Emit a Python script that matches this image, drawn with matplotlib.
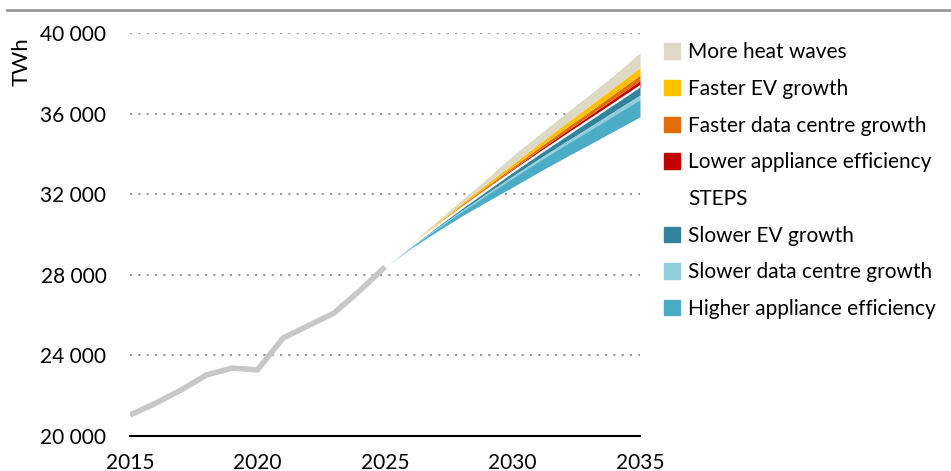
import numpy as np
import matplotlib.pyplot as plt
from matplotlib.patches import Patch
from matplotlib.ticker import FuncFormatter

plt.rcParams['font.family'] = ['Lato', 'DejaVu Sans']

# --- data (TWh) ---
hist_years = list(range(2015, 2026))
hist = [21040, 21620, 22280, 23030, 23370, 23280, 24860, 25480, 26100, 27200, 28390]

proj_years = list(range(2025, 2036))
steps = [28390, 29400, 30360, 31300, 32200, 33100, 33970, 34820, 35660, 36500, 37350]

# band widths above STEPS (stacked upward)
lower_appl_eff = [0, 30, 60, 90, 120, 150, 180, 210, 230, 260, 280]
faster_dc = [0, 30, 60, 80, 90, 100, 130, 170, 200, 240, 280]
faster_ev = [0, 20, 50, 80, 120, 150, 190, 230, 280, 330, 380]
heat_waves = [0, 40, 90, 150, 250, 400, 450, 500, 550, 600, 730]

# band widths below STEPS (stacked downward)
slower_ev = [0, 30, 70, 110, 150, 200, 240, 290, 340, 380, 430]
slower_dc = [0, 20, 40, 60, 80, 100, 120, 140, 170, 190, 220]
higher_appl_eff = [0, 50, 130, 220, 330, 450, 530, 610, 690, 780, 860]

col_heat = "#DDD9C4"
col_fev = "#FFC000"
col_fdc = "#E36C0A"
col_lae = "#C00000"
col_sev = "#31849B"
col_sdc = "#92CDDC"
col_hae = "#4BACC6"

fs = 15

fig = plt.figure(figsize=(9.51, 4.71), dpi=100)
ax = fig.add_axes([130 / 951, 1 - 436 / 471, 510 / 951, 403 / 471])

x = np.array(proj_years)
base = np.array(steps, dtype=float)

# upper bands
lo = base.copy()
for w, c in [(lower_appl_eff, col_lae), (faster_dc, col_fdc), (faster_ev, col_fev), (heat_waves, col_heat)]:
    hi = lo + np.array(w)
    ax.fill_between(x, lo, hi, color=c, lw=0, zorder=2)
    lo = hi

# lower bands
hi = base.copy()
for w, c in [(slower_ev, col_sev), (slower_dc, col_sdc), (higher_appl_eff, col_hae)]:
    lo = hi - np.array(w)
    ax.fill_between(x, lo, hi, color=c, lw=0, zorder=2)
    hi = lo

ax.plot(x, steps, color="white", lw=1.6, zorder=3)
ax.plot(hist_years, hist, color="#C8C8C8", lw=4, zorder=4, solid_capstyle="butt")

ax.set_xlim(2015, 2035)
ax.set_ylim(20000, 40000)
ax.set_xticks([2015, 2020, 2025, 2030, 2035])
ax.set_yticks([20000, 24000, 28000, 32000, 36000, 40000])
ax.yaxis.set_major_formatter(FuncFormatter(lambda v, p: f"{int(v):,}".replace(",", " ")))
ax.tick_params(length=0, labelsize=fs, colors="black")
ax.tick_params(axis="y", pad=17)
ax.tick_params(axis="x", pad=12)
for s in ["top", "right", "left"]:
    ax.spines[s].set_visible(False)
ax.spines["bottom"].set_linewidth(1.5)
ax.spines["bottom"].set_zorder(5)
ax.grid(axis="y", color="#999999", linestyle=(0, (1, 3)), lw=1.5)
ax.set_axisbelow(True)

fig.text(22 / 951, 1 - 62 / 471, "TWh", rotation=90, fontsize=16, ha="center", va="center")

# top rule
fig.add_artist(plt.Line2D([7 / 951, 1], [1 - 10 / 471, 1 - 10 / 471], color="#999999", lw=2))

handles = [
    Patch(color=col_heat, label="More heat waves"),
    Patch(color=col_fev, label="Faster EV growth"),
    Patch(color=col_fdc, label="Faster data centre growth"),
    Patch(color=col_lae, label="Lower appliance efficiency"),
    Patch(color="white", label="STEPS"),
    Patch(color=col_sev, label="Slower EV growth"),
    Patch(color=col_sdc, label="Slower data centre growth"),
    Patch(color=col_hae, label="Higher appliance efficiency"),
]
fig.legend(handles=handles, loc="upper left", bbox_to_anchor=(656 / 951, 1 - 34 / 471),
           frameon=False, fontsize=fs, handlelength=0.75, handleheight=0.75,
           handletextpad=0.4, labelspacing=0.8, borderaxespad=0)

fig.savefig("out.png", dpi=100)
